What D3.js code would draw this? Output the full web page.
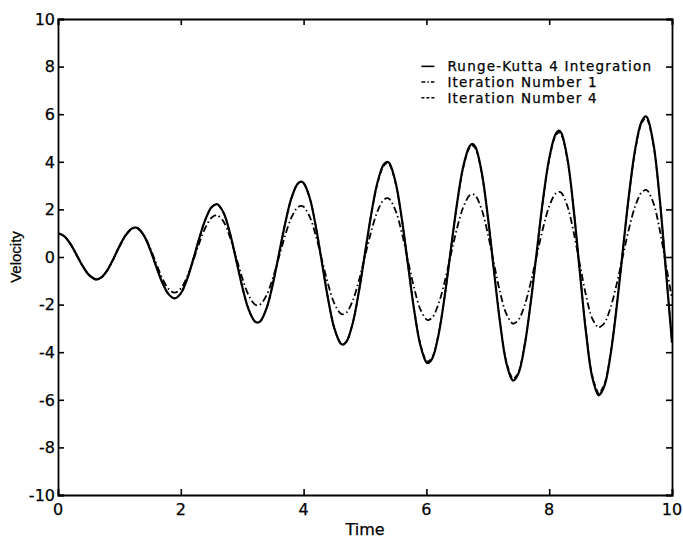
<!DOCTYPE html>
<html>
<head>
<meta charset="utf-8">
<script src="https://cdn.jsdelivr.net/npm/d3@7"></script>
<style>
  body { margin: 0; background: #fff; }
  text { font-family: "DejaVu Sans", "Liberation Sans", Arial, sans-serif; fill: #000; stroke: #000; stroke-width: 0.25px; }
</style>
</head>
<body>
<script>
// values
var time = [0,0.1,0.2,0.3,0.4,0.5,0.6,0.63,0.7,0.8,0.9,1.0,1.1,1.2,1.26,1.3,1.4,1.5,1.6,1.7,1.8,1.9,
  2.0,2.1,2.2,2.3,2.4,2.5,2.58,2.6,2.7,2.8,2.9,3.0,3.1,3.2,3.25,3.3,3.4,3.5,3.6,3.7,3.8,3.9,3.96,
  4.0,4.1,4.2,4.3,4.4,4.5,4.6,4.64,4.7,4.8,4.9,5.0,5.1,5.2,5.3,5.36,5.4,5.5,5.6,5.7,5.8,5.9,6.0,6.03,
  6.1,6.2,6.3,6.4,6.5,6.6,6.7,6.75,6.8,6.9,7.0,7.1,7.2,7.3,7.4,7.42,7.5,7.6,7.7,7.8,7.9,8.0,8.1,8.16,
  8.2,8.3,8.4,8.5,8.6,8.7,8.8,8.81,8.9,9.0,9.1,9.2,9.3,9.4,9.5,9.57,9.6,9.7,9.8,9.9,10.0];

var rk4 = [1.00,0.88,0.56,0.10,-0.37,-0.74,-0.93,-0.94,-0.87,-0.57,-0.09,0.45,0.91,1.19,1.24,1.21,0.90,0.32,-0.40,-1.08,-1.56,-1.74,
  -1.53,-0.95,-0.12,0.78,1.57,2.09,2.22,2.21,1.84,1.01,-0.10,-1.24,-2.17,-2.69,-2.76,-2.69,-2.13,-1.12,0.14,1.41,2.46,3.07,3.17,
  3.11,2.48,1.27,-0.26,-1.78,-2.99,-3.62,-3.68,-3.55,-2.78,-1.46,0.16,1.78,3.10,3.87,4.00,3.93,3.12,1.60,-0.32,-2.22,-3.69,-4.43,-4.45,
  -4.24,-3.24,-1.61,0.35,2.27,3.80,4.64,4.75,4.62,3.57,1.71,-0.57,-2.77,-4.43,-5.17,-5.19,-4.89,-3.73,-1.90,0.28,2.43,4.14,5.14,5.31,
  5.20,4.08,1.97,-0.66,-3.18,-5.04,-5.80,-5.81,-5.41,-4.09,-2.08,0.29,2.63,4.52,5.66,5.91,5.84,4.72,2.45,-0.55,-3.60];

var iter1 = [1.00,0.88,0.56,0.10,-0.37,-0.74,-0.93,-0.94,-0.88,-0.57,-0.10,0.43,0.89,1.17,1.22,1.19,0.91,0.38,-0.27,-0.90,-1.34,-1.50,
  -1.33,-0.85,-0.17,0.58,1.23,1.65,1.76,1.75,1.47,0.84,0.00,-0.87,-1.58,-1.98,-2.03,-1.98,-1.59,-0.88,0.01,0.91,1.65,2.08,2.15,
  2.11,1.69,0.89,-0.13,-1.15,-1.95,-2.37,-2.41,-2.33,-1.84,-1.00,0.03,1.06,1.90,2.39,2.47,2.43,1.94,1.01,-0.15,-1.30,-2.19,-2.62,-2.65,
  -2.53,-1.95,-1.02,0.11,1.22,2.09,2.58,2.64,2.57,2.00,0.98,-0.27,-1.48,-2.38,-2.79,-2.80,-2.64,-2.03,-1.06,0.09,1.22,2.13,2.65,2.74,
  2.69,2.11,1.02,-0.32,-1.62,-2.58,-2.97,-2.97,-2.77,-2.12,-1.13,0.04,1.20,2.13,2.70,2.82,2.79,2.25,1.15,-0.30,-1.75];

var iter4 = [1.00,0.88,0.56,0.10,-0.37,-0.74,-0.93,-0.94,-0.87,-0.57,-0.09,0.45,0.91,1.19,1.24,1.21,0.90,0.32,-0.40,-1.08,-1.56,-1.74,
  -1.53,-0.95,-0.12,0.78,1.57,2.09,2.22,2.21,1.84,1.01,-0.10,-1.24,-2.17,-2.69,-2.76,-2.69,-2.13,-1.12,0.14,1.41,2.46,3.07,3.17,
  3.11,2.48,1.27,-0.26,-1.78,-2.99,-3.62,-3.68,-3.55,-2.78,-1.46,0.16,1.75,3.05,3.81,3.94,3.87,3.07,1.58,-0.32,-2.19,-3.63,-4.36,-4.38,
  -4.18,-3.19,-1.59,0.34,2.24,3.74,4.57,4.68,4.55,3.52,1.68,-0.56,-2.73,-4.36,-5.09,-5.11,-4.82,-3.67,-1.87,0.28,2.39,4.08,5.06,5.23,
  5.12,4.02,1.94,-0.65,-3.13,-4.96,-5.71,-5.72,-5.33,-4.03,-2.05,0.29,2.59,4.45,5.58,5.82,5.75,4.66,2.41,-0.54,-3.55];

var xTicks = [0, 2, 4, 6, 8, 10];
var yTicks = [-10, -8, -6, -4, -2, 0, 2, 4, 6, 8, 10];
var legendLabels = ["Runge-Kutta 4 Integration", "Iteration Number 1", "Iteration Number 4"];

var margin = { top: 19, right: 11, bottom: 44, left: 58 };
var W = 683, H = 539;
var width = W - margin.left - margin.right;
var height = H - margin.top - margin.bottom;

var svg = d3.select("body").append("svg")
    .attr("width", W)
    .attr("height", H);

var g = svg.append("g")
    .attr("transform", "translate(" + margin.left + "," + margin.top + ")");

var x = d3.scaleLinear().domain([0, 10]).range([0, width]);
var y = d3.scaleLinear().domain([-10, 10]).range([height, 0]);

// clip so curves stay in the box
g.append("clipPath").attr("id", "clip")
  .append("rect").attr("width", width).attr("height", height);

function lineFor(vals) {
    return d3.line()
        .x(function(d, i) { return x(time[i]); })
        .y(function(d) { return y(d); })
        .curve(d3.curveCatmullRom.alpha(0.5))(vals);
}

var curves = g.append("g").attr("clip-path", "url(#clip)");

curves.append("path")
    .attr("d", lineFor(iter1))
    .attr("fill", "none")
    .attr("stroke", "#000")
    .attr("stroke-width", 1.8)
    .attr("stroke-dasharray", "7,3,1.5,3");

curves.append("path")
    .attr("d", lineFor(iter4))
    .attr("fill", "none")
    .attr("stroke", "#000")
    .attr("stroke-width", 1.6)
    .attr("stroke-dasharray", "5,3");

curves.append("path")
    .attr("d", lineFor(rk4))
    .attr("fill", "none")
    .attr("stroke", "#000")
    .attr("stroke-width", 2.2);

// axes: ticks inward on all four sides
var tickLen = 6;
g.append("g")
    .attr("transform", "translate(0," + height + ")")
    .call(d3.axisTop(x).tickValues(xTicks).tickSize(tickLen).tickFormat(""));
g.append("g")
    .call(d3.axisBottom(x).tickValues(xTicks).tickSize(tickLen).tickFormat(""));
g.append("g")
    .call(d3.axisRight(y).tickValues(yTicks).tickSize(tickLen).tickFormat(""));
g.append("g")
    .attr("transform", "translate(" + width + ",0)")
    .call(d3.axisLeft(y).tickValues(yTicks).tickSize(tickLen).tickFormat(""));

g.selectAll(".domain").attr("stroke", "#000").attr("stroke-width", 1.8);
g.selectAll(".tick line").attr("stroke", "#000").attr("stroke-width", 1.6);

// tick labels
g.selectAll(".xlab")
    .data(xTicks)
    .enter().append("text")
    .attr("x", function(d) { return x(d); })
    .attr("y", height + 20)
    .attr("text-anchor", "middle")
    .style("font-size", "16px")
    .text(function(d) { return d; });

g.selectAll(".ylab")
    .data(yTicks)
    .enter().append("text")
    .attr("x", -3)
    .attr("y", function(d) { return y(d); })
    .attr("dy", "0.36em")
    .attr("text-anchor", "end")
    .style("font-size", "16px")
    .text(function(d) { return d; });

// axis titles
g.append("text")
    .attr("x", width / 2)
    .attr("y", height + 40)
    .attr("text-anchor", "middle")
    .style("font-size", "16px")
    .text("Time");

g.append("text")
    .attr("transform", "translate(" + (-37) + "," + (height / 2) + ") rotate(-90)")
    .attr("text-anchor", "middle")
    .style("font-family", "'Liberation Sans', Arial, sans-serif")
    .style("font-size", "15px")
    .text("Velocity");

// legend
var dashes = [null, "4,2,1.5,2", "3,2"];
var legend = g.append("g").attr("transform", "translate(" + (x(6.0) - 5) + "," + (y(7.8)) + ")");
legendLabels.forEach(function(lbl, i) {
    var row = legend.append("g").attr("transform", "translate(0," + (i * 15.7) + ")");
    row.append("line")
        .attr("x1", 0).attr("x2", 13)
        .attr("y1", -5).attr("y2", -5)
        .attr("stroke", "#000")
        .attr("stroke-width", 1.6)
        .attr("stroke-dasharray", dashes[i]);
    row.append("text")
        .attr("x", 26)
        .attr("y", 0)
        .style("font-size", "13.5px")
        .style("letter-spacing", "1.2px")
        .text(lbl);
});
</script>
</body>
</html>
